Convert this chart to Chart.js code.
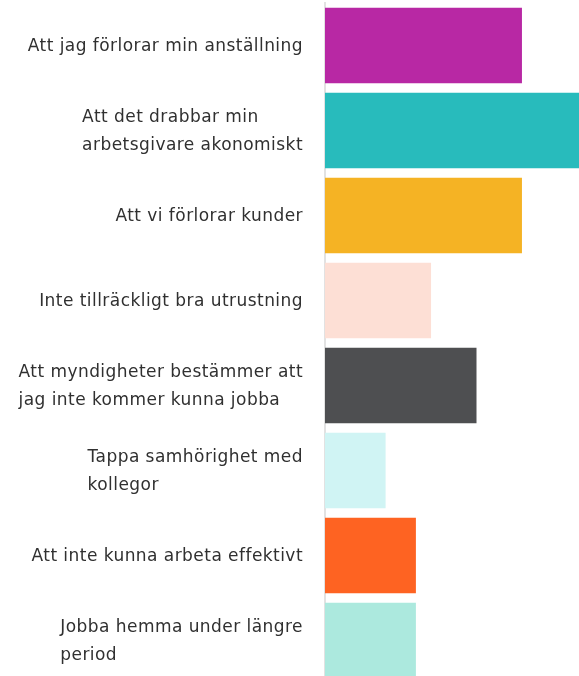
<!DOCTYPE html>
<html>
<head>
<meta charset="utf-8">
<script src="https://cdn.jsdelivr.net/npm/chart.js@4/dist/chart.umd.min.js"></script>
<style>
html,body{margin:0;padding:0;background:#fff;overflow:hidden;width:579px;height:676px;}
#wrap{position:absolute;left:0;top:0;width:628px;height:686px;}
</style>
</head>
<body>
<div id="wrap"><canvas id="c" width="628" height="686"></canvas></div>
<script>
const categories = [
  "Att jag förlorar min anställning",
  ["Att det drabbar min", "arbetsgivare akonomiskt"],
  "Att vi förlorar kunder",
  "Inte tillräckligt bra utrustning",
  ["Att myndigheter bestämmer att", "jag inte kommer kunna jobba"],
  ["Tappa samhörighet med", "kollegor"],
  "Att inte kunna arbeta effektivt",
  ["Jobba hemma under längre", "period"]
];
const values = [13, 17, 13, 7, 10, 4, 6, 6];
const barColors = ["#B828A4", "#28BBBC", "#F5B324", "#FDDFD5", "#4E4F51", "#D0F4F4", "#FE6322", "#ACE9DE"];

// Draws category labels as blocks: right edge aligned to the axis, lines left-aligned within a block
const blockLabels = {
  id: 'blockLabels',
  afterDraw(chart) {
    const ys = chart.scales.y;
    const ctx = chart.ctx;
    const lineH = 28;
    const rightX = ys.right - 22;
    ctx.save();
    ctx.font = '17px "DejaVu Sans"';
    if ('letterSpacing' in ctx) ctx.letterSpacing = '0.45px';
    ctx.fillStyle = '#303030';
    ctx.textAlign = 'left';
    ctx.textBaseline = 'middle';
    chart.data.labels.forEach((lab, i) => {
      const lines = Array.isArray(lab) ? lab : [lab];
      const w = Math.max(...lines.map(l => ctx.measureText(l).width));
      const cy = ys.getPixelForValue(i) + 1;
      const top = cy - lines.length * lineH / 2;
      lines.forEach((l, k) => {
        ctx.fillText(l, rightX - w, top + lineH * (k + 0.5));
      });
    });
    ctx.restore();
  }
};

new Chart(document.getElementById('c'), {
  type: 'bar',
  data: {
    labels: categories,
    datasets: [{
      data: values,
      backgroundColor: barColors,
      borderWidth: 0,
      categoryPercentage: 1,
      barPercentage: 0.89
    }]
  },
  options: {
    indexAxis: 'y',
    responsive: false,
    animation: false,
    events: [],
    layout: { padding: { top: 3, bottom: 3, left: 0, right: 0 } },
    plugins: { legend: { display: false }, tooltip: { enabled: false } },
    scales: {
      x: { display: false, min: 0, max: 20 },
      y: {
        afterFit: (s) => { s.width = 325; s.paddingTop = 0; s.paddingBottom = 0; },
        grid: { display: false, drawTicks: false },
        border: { display: true, color: '#e2e2e2', width: 2 },
        ticks: { display: false }
      }
    }
  },
  plugins: [blockLabels]
});
</script>
</body>
</html>
